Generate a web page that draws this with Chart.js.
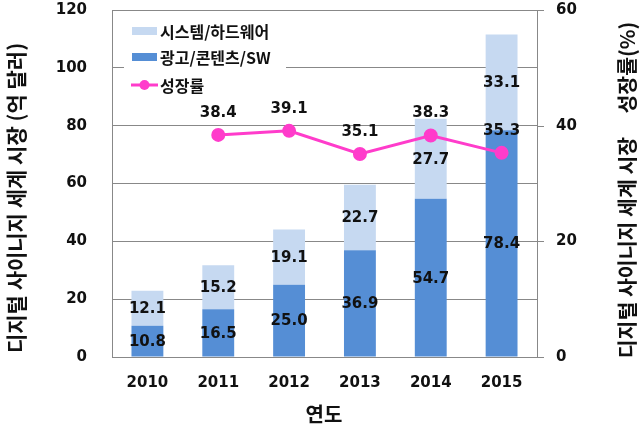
<!DOCTYPE html>
<html>
<head>
<meta charset="utf-8">
<script src="https://cdn.jsdelivr.net/npm/chart.js@4.4.0/dist/chart.umd.min.js"></script>
<style>
html, body { margin: 0; padding: 0; background: #fff; }
#wrap { width: 640px; height: 428px; }
</style>
</head>
<body>
<div id="wrap"><canvas id="chart" width="640" height="428"></canvas></div>
<script>
// values
var years = ['2010', '2011', '2012', '2013', '2014', '2015'];
var adContent = [10.8, 16.5, 25.0, 36.9, 54.7, 78.4];   // 광고/콘텐츠/SW
var systemHw = [12.1, 15.2, 19.1, 22.7, 27.7, 33.1];    // 시스템/하드웨어
var growthRate = [null, 38.4, 39.1, 35.1, 38.3, 35.3];  // 성장률 (%)
var rightTicks = [0, 20, 40, 60];

var NUM_FONT = '"DejaVu Sans", Verdana, sans-serif';
var KR_FONT = '"Noto Sans CJK KR", "Noto Sans", sans-serif';
var DARK = '#558ED5', LIGHT = '#C6D9F1', PINK = '#FF3CCB', GRID = '#888888';

// labels inside bars and above the points
var valueLabels = {
    id: 'valueLabels',
    afterDatasetsDraw: function (chart) {
        var ctx = chart.ctx;
        ctx.save();
        ctx.fillStyle = '#111';
        ctx.font = 'bold 15px ' + NUM_FONT;
        ctx.textAlign = 'center';
        ctx.textBaseline = 'middle';
        chart.data.datasets.forEach(function (ds, di) {
            var meta = chart.getDatasetMeta(di);
            meta.data.forEach(function (el, i) {
                var v = ds.data[i];
                if (v == null) return;
                if (ds.type === 'line') {
                    ctx.fillText(v.toFixed(1), el.x, el.y - 22);
                } else {
                    ctx.fillText(v.toFixed(1), el.x, (el.y + el.base) / 2 + 1);
                }
            });
        });
        ctx.restore();
    }
};

// legend box, right axis tick marks, axis titles
var extras = {
    id: 'extras',
    afterDraw: function (chart) {
        var ctx = chart.ctx;
        var y1 = chart.scales.y1;
        ctx.save();
        // short outward ticks on the right axis
        ctx.strokeStyle = GRID;
        ctx.lineWidth = 1;
        rightTicks.forEach(function (t) {
            var py = Math.round(y1.getPixelForValue(t)) + 0.5;
            ctx.beginPath();
            ctx.moveTo(y1.left, py);
            ctx.lineTo(y1.left + 7, py);
            ctx.stroke();
        });

        // legend
        ctx.fillStyle = '#fff';
        ctx.fillRect(124, 17, 162, 80);
        ctx.fillStyle = LIGHT;
        ctx.fillRect(132, 27, 25, 8);
        ctx.fillStyle = DARK;
        ctx.fillRect(132, 53, 25, 8);
        ctx.strokeStyle = PINK;
        ctx.lineWidth = 3;
        ctx.beginPath();
        ctx.moveTo(131, 85);
        ctx.lineTo(158, 85);
        ctx.stroke();
        ctx.fillStyle = PINK;
        ctx.beginPath();
        ctx.arc(144.5, 85, 5, 0, Math.PI * 2);
        ctx.fill();
        ctx.fillStyle = '#111';
        ctx.font = 'bold 16px ' + KR_FONT;
        ctx.textAlign = 'left';
        ctx.textBaseline = 'middle';
        ctx.fillText('시스템/하드웨어', 160, 32);
        ctx.fillText('광고/콘텐츠/SW', 160, 58);
        ctx.fillText('성장률', 160, 86);

        // x title
        ctx.font = 'bold 20px ' + KR_FONT;
        ctx.textAlign = 'center';
        ctx.fillText('연도', 324, 414);

        // y titles, both read bottom to top
        ctx.font = 'bold 21px ' + KR_FONT;
        ctx.translate(16, 198);
        ctx.rotate(-Math.PI / 2);
        ctx.fillText('디지털 사이니지 세계 시장 (억 달러)', 0, 0);
        ctx.restore();

        ctx.save();
        ctx.fillStyle = '#111';
        ctx.font = 'bold 20.5px ' + KR_FONT;
        ctx.textAlign = 'center';
        ctx.textBaseline = 'middle';
        ctx.translate(627, 190);
        ctx.rotate(-Math.PI / 2);
        ctx.fillText('디지털 사이니지 세계 시장     성장률(%)', 0, 0);
        ctx.restore();
    }
};

var ctx = document.getElementById('chart').getContext('2d');
var chart = new Chart(ctx, {
    type: 'bar',
    data: {
        labels: years,
        datasets: [
            {
                type: 'line',
                label: '성장률',
                data: growthRate,
                yAxisID: 'y1',
                borderColor: PINK,
                backgroundColor: PINK,
                borderWidth: 3,
                pointRadius: 5.5,
                pointHoverRadius: 5.5,
                tension: 0,
                order: 0
            },
            {
                label: '광고/콘텐츠/SW',
                data: adContent,
                backgroundColor: DARK,
                stack: 's',
                categoryPercentage: 1,
                barPercentage: 0.45,
                order: 1
            },
            {
                label: '시스템/하드웨어',
                data: systemHw,
                backgroundColor: LIGHT,
                stack: 's',
                categoryPercentage: 1,
                barPercentage: 0.45,
                order: 1
            }
        ]
    },
    options: {
        responsive: false,
        devicePixelRatio: 1,
        animation: false,
        layout: { padding: { top: 10, left: 0, right: 0, bottom: 0 } },
        plugins: {
            legend: { display: false },
            tooltip: { enabled: false }
        },
        scales: {
            x: {
                stacked: true,
                grid: { display: true, drawOnChartArea: false, drawTicks: false },
                border: { display: true, color: GRID, width: 1 },
                ticks: {
                    color: '#111',
                    font: { family: NUM_FONT, size: 15, weight: 'bold' },
                    padding: 17
                },
                afterFit: function (s) { s.height = 71; }
            },
            y: {
                stacked: true,
                position: 'left',
                min: 0,
                max: 120,
                ticks: {
                    stepSize: 20,
                    color: '#111',
                    font: { family: NUM_FONT, size: 15, weight: 'bold' },
                    padding: 0
                },
                grid: { color: GRID, lineWidth: 1, drawTicks: true, tickLength: 25, tickColor: 'rgba(0,0,0,0)' },
                border: { display: true, color: GRID, width: 1 },
                afterFit: function (s) { s.width = 112; }
            },
            y1: {
                position: 'right',
                min: 0,
                max: 60,
                ticks: {
                    stepSize: 20,
                    color: '#111',
                    font: { family: NUM_FONT, size: 15, weight: 'bold' },
                    padding: 0
                },
                grid: { drawOnChartArea: false, drawTicks: true, tickLength: 19, tickColor: 'rgba(0,0,0,0)' },
                border: { display: true, color: GRID, width: 1 },
                afterFit: function (s) { s.width = 103; }
            }
        }
    },
    plugins: [valueLabels, extras]
});
</script>
</body>
</html>
